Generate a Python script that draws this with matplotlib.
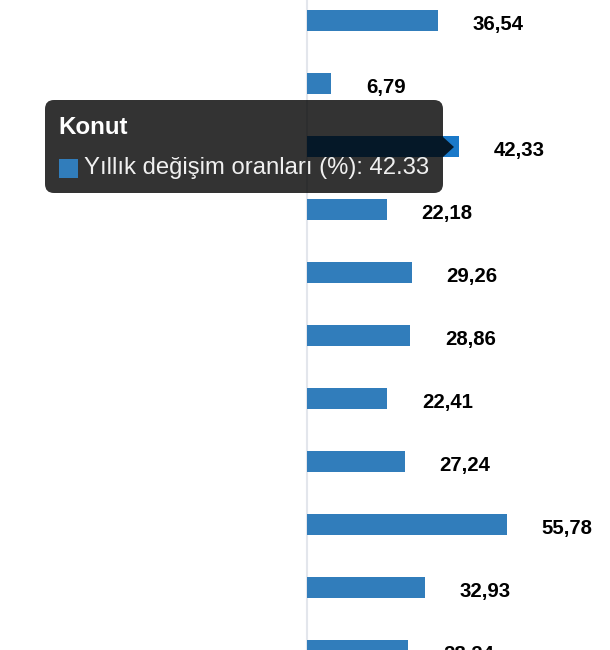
import matplotlib
matplotlib.use("Agg")
import matplotlib.pyplot as plt
from matplotlib.patches import FancyBboxPatch, Polygon, Rectangle

plt.rcParams['font.family'] = ['Liberation Sans', 'DejaVu Sans']

# Data
categories = ["K1", "K2", "Konut", "K4", "K5", "K6", "K7", "K8", "K9", "K10", "K11"]
values = [36.54, 6.79, 42.33, 22.18, 29.26, 28.86, 22.41, 27.24, 55.78, 32.93, 28.24]
series_name = "Yıllık değişim oranları (%)"
hover_index = 2

W, H = 610, 650
fig = plt.figure(figsize=(W / 100, H / 100), dpi=100)
ax = fig.add_axes([0, 0, 1, 1])

px_per_unit = 3.585
x0_px = 307
ax.set_xlim(-x0_px / px_per_unit, (W - x0_px) / px_per_unit)
row_px = 63
first_center = 20.5
ax.set_ylim((H - first_center) / row_px, -first_center / row_px)
ax.axis('off')

# grid line at zero
ax.axvline(0, color='#e3e6ec', lw=1.5, zorder=1)

ypos = list(range(len(values)))
colors = ['#1a79c9' if i == hover_index else '#317dbb' for i in ypos]
ax.barh(ypos, values, height=21 / row_px, color=colors, edgecolor='none', zorder=2)

for y, v in zip(ypos, values):
    ax.annotate(f"{v:.2f}".replace('.', ','), xy=(v, y), xytext=(25.0, -6.9),
                textcoords='offset points', ha='left', va='baseline',
                fontsize=14.7, fontweight='bold', color='#000000', zorder=3,
                annotation_clip=False)

# Tooltip overlay in pixel coordinates
ov = fig.add_axes([0, 0, 1, 1], zorder=5)
ov.set_xlim(0, W)
ov.set_ylim(H, 0)
ov.axis('off')
ov.patch.set_alpha(0)

box = FancyBboxPatch((45, 100), 398, 93, boxstyle="round,pad=0,rounding_size=9",
                     facecolor='black', alpha=0.8, edgecolor='none')
ov.add_patch(box)
tri = Polygon([(443, 137), (454, 147), (443, 157)], closed=True,
              facecolor='black', alpha=0.8, edgecolor='none')
ov.add_patch(tri)

ov.text(58, 134, categories[hover_index], color='white', fontsize=17.4,
        fontweight='bold', ha='left', va='baseline')
ov.add_patch(Rectangle((59, 158.5), 19, 19, facecolor='#317dbb', edgecolor='none'))
ov.text(84, 174, f"{series_name}: {values[hover_index]:.2f}", color='#f0f0f0',
        fontsize=17.2, ha='left', va='baseline')

fig.savefig('out.png', dpi=100)
